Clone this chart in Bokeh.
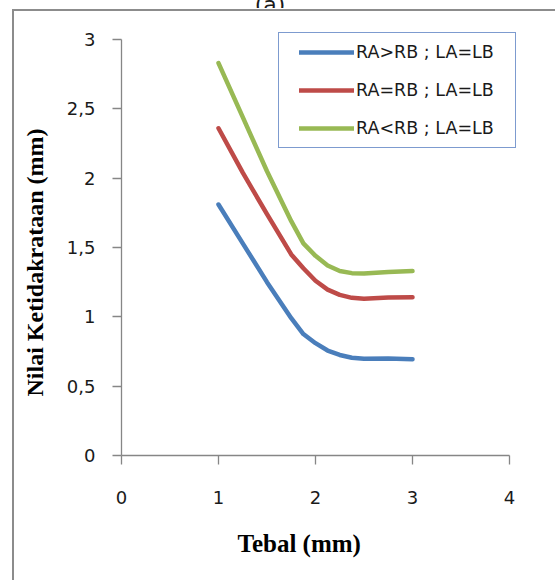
from bokeh.plotting import figure
from bokeh.models import FixedTicker, Legend, LegendItem, Range1d, Title, Div
from bokeh.layouts import column
from bokeh.embed import file_html
from bokeh.resources import INLINE

# ---- data ----
thickness = [1, 1.25, 1.5, 1.75, 1.875, 2, 2.125, 2.25, 2.375, 2.5, 2.75, 3]
ra_gt_rb = [1.81, 1.53, 1.25, 0.99, 0.876, 0.81, 0.757, 0.725, 0.705, 0.697, 0.70, 0.695]
ra_eq_rb = [2.36, 2.04, 1.74, 1.45, 1.35, 1.26, 1.196, 1.158, 1.137, 1.131, 1.14, 1.142]
ra_lt_rb = [2.83, 2.44, 2.05, 1.69, 1.53, 1.44, 1.37, 1.33, 1.315, 1.312, 1.324, 1.33]

series_names = ["RA>RB ; LA=LB", "RA=RB ; LA=LB", "RA<RB ; LA=LB"]
series_colors = ["#4A7EBB", "#BE4B48", "#98B954"]

x_ticks = [0, 1, 2, 3, 4]
y_ticks = [0, 0.5, 1, 1.5, 2, 2.5, 3]
y_tick_labels = ["0", "0,5", "1", "1,5", "2", "2,5", "3"]

x_title = "Tebal (mm)"
y_title = "Nilai Ketidakrataan (mm)"
chart_tag = "(a)"

# chart-area border and legend frame drawn as CSS backgrounds of the figure element
g_outer = "#8C8C8C"
g_leg = "#7D9BCF"
bg = ", ".join([
    f"linear-gradient({g_outer},{g_outer}) 12px 1px / 2px 100% no-repeat",
    f"linear-gradient({g_outer},{g_outer}) 12px 1px / 100% 2px no-repeat",
    f"linear-gradient({g_leg},{g_leg}) 278px 24px / 238px 1px no-repeat",
    f"linear-gradient({g_leg},{g_leg}) 278px 139px / 238px 1px no-repeat",
    f"linear-gradient({g_leg},{g_leg}) 278px 24px / 1px 116px no-repeat",
    f"linear-gradient({g_leg},{g_leg}) 515px 24px / 1px 116px no-repeat",
    "white",
])

p = figure(width=555, height=572, output_backend="svg", toolbar_location=None,
           x_range=Range1d(0, 4), y_range=Range1d(0, 3),
           min_border_left=121, min_border_right=46, min_border_top=31,
           min_border_bottom=125)
p.styles = {"background": bg}
p.margin = 0
p.outline_line_color = None
p.xgrid.grid_line_color = None
p.ygrid.grid_line_color = None
p.background_fill_color = None
p.border_fill_color = None

renderers = []
for ys, c in zip([ra_gt_rb, ra_eq_rb, ra_lt_rb], series_colors):
    r = p.line(thickness, ys, line_color=c, line_width=4.5, line_join="round",
               line_cap="round")
    renderers.append(r)

axis_color = "#868686"
for ax in (p.xaxis[0], p.yaxis[0]):
    ax.axis_line_color = axis_color
    ax.axis_line_width = 1.3
    ax.major_tick_line_color = axis_color
    ax.major_tick_line_width = 1.3
    ax.major_tick_out = 9
    ax.major_tick_in = 0
    ax.minor_tick_line_color = None
    ax.major_label_text_font = "DejaVu Sans"
    ax.major_label_text_font_size = "18px"
    ax.major_label_text_color = "#1a1a1a"

p.xaxis[0].ticker = FixedTicker(ticks=x_ticks)
p.yaxis[0].ticker = FixedTicker(ticks=y_ticks)
p.yaxis[0].major_label_overrides = {t: l for t, l in zip(y_ticks, y_tick_labels)}
p.xaxis[0].major_label_standoff = 26
p.yaxis[0].major_label_standoff = 17

p.add_layout(Title(text=x_title, align="left", offset=116, standoff=43,
                   text_font="Liberation Serif", text_font_style="bold",
                   text_font_size="25px", text_color="#000000"), "below")
p.add_layout(Title(text=y_title, align="left", offset=59, standoff=31,
                   text_font="Liberation Serif", text_font_style="bold",
                   text_font_size="24px", text_color="#000000"), "left")

legend = Legend(items=[LegendItem(label=n, renderers=[r]) for n, r in zip(series_names, renderers)],
                location=(178, 312))
legend.label_text_font = "DejaVu Sans"
legend.label_text_font_size = "17.5px"
legend.label_text_color = "#1a1a1a"
legend.glyph_width = 55
legend.glyph_height = 30
legend.label_height = 30
legend.spacing = 8
legend.padding = 4
legend.margin = 0
legend.label_standoff = 2
legend.border_line_color = None
legend.background_fill_alpha = 0
p.add_layout(legend, "center")

# chart tag "(a)", mostly cut off above the chart-area border
tag = Div(text=('<div style="margin-top:-16px; width:540px; text-align:center; '
                'font-family:\'DejaVu Sans\'; font-size:22px; color:#1a1a1a;">'
                + chart_tag + '</div>'),
          width=555, height=8, margin=0, styles={"overflow": "hidden"})

layout = column(tag, p, spacing=0)
open("out.html", "w").write(file_html(layout, INLINE))
